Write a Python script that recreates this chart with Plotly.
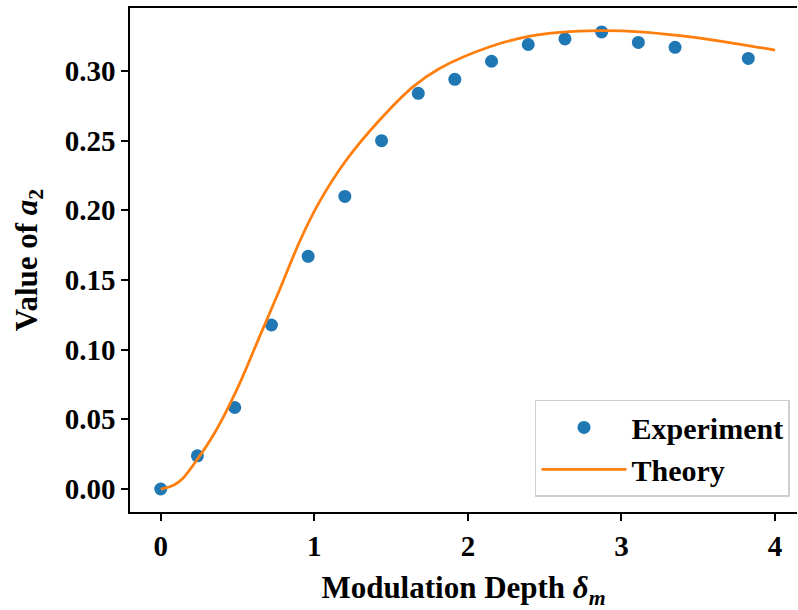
import plotly.graph_objects as go

exp_x = [0.0, 0.239, 0.482, 0.721, 0.960, 1.199, 1.438, 1.677, 1.915, 2.154,
         2.393, 2.632, 2.871, 3.110, 3.349, 3.826]
exp_y = [0.000, 0.0238, 0.0585, 0.1177, 0.167, 0.210, 0.250, 0.284, 0.294, 0.307,
         0.319, 0.323, 0.328, 0.3205, 0.317, 0.309]

# Theory curve (sampled from the chart)
theo_x = [0.0, 0.08, 0.145, 0.232, 0.32, 0.406, 0.515, 0.650, 0.775, 0.906,
          1.036, 1.21, 1.427, 1.644, 1.818, 2.143, 2.404, 2.599, 2.860, 3.121,
          3.381, 3.642, 4.0]
theo_y = [0.0, 0.0025, 0.0078, 0.0203, 0.0346, 0.0513, 0.076, 0.111, 0.1432, 0.178,
          0.2066, 0.2363, 0.265, 0.2888, 0.302, 0.3174, 0.325, 0.3277, 0.3289, 0.3281,
          0.3253, 0.3215, 0.315]

x_ticks = [0, 1, 2, 3, 4]
y_ticks = [0.00, 0.05, 0.10, 0.15, 0.20, 0.25, 0.30]

FONT = "Liberation Serif"

fig = go.Figure()
fig.add_trace(go.Scatter(
    x=exp_x, y=exp_y, mode="markers", name="<b>Experiment</b>",
    marker=dict(color="#1f77b4", size=13, line=dict(width=0)),
))
fig.add_trace(go.Scatter(
    x=theo_x, y=theo_y, mode="lines", name="<b>Theory</b>",
    line=dict(color="#ff7f0e", width=2.8, shape="spline", smoothing=0.9),
))

fig.update_layout(
    width=798, height=610,
    margin=dict(l=130, r=1, t=8, b=98),
    paper_bgcolor="white", plot_bgcolor="white",
    font=dict(family=FONT, color="black"),
    showlegend=True,
    legend=dict(
        x=0.9895, y=0.03, xanchor="right", yanchor="bottom",
        bgcolor="rgba(255,255,255,0.8)", bordercolor="#d0d0d0", borderwidth=1.5,
        font=dict(family=FONT, size=30, color="black"),
        itemwidth=85, tracegroupgap=4,
    ),
    xaxis=dict(
        range=[-0.2, 4.143], tickvals=x_ticks,
        ticktext=[f"<b>{v}</b>" for v in x_ticks],
        ticks="outside", ticklen=7, tickwidth=1.5, tickcolor="black",
        showline=True, linecolor="black", linewidth=1.5, mirror=True,
        showgrid=False, zeroline=False,
        tickfont=dict(family=FONT, size=29, color="black"),
        title=dict(text="<b>Modulation Depth <i>δ<sub>m</sub></i></b>",
                   font=dict(family=FONT, size=31, color="black"), standoff=18),
    ),
    yaxis=dict(
        range=[-0.0165, 0.3452], tickvals=y_ticks,
        ticktext=[f"<b>{v:.2f}</b>" for v in y_ticks],
        ticks="outside", ticklen=7, tickwidth=1.5, tickcolor="black",
        showline=True, linecolor="black", linewidth=1.5, mirror=False,
        showgrid=False, zeroline=False,
        tickfont=dict(family=FONT, size=29, color="black"),
        title=dict(text="<b>Value of <i>a</i><sub>2</sub></b>",
                   font=dict(family=FONT, size=31, color="black"), standoff=18),
    ),
)

fig.write_html("out.html")
